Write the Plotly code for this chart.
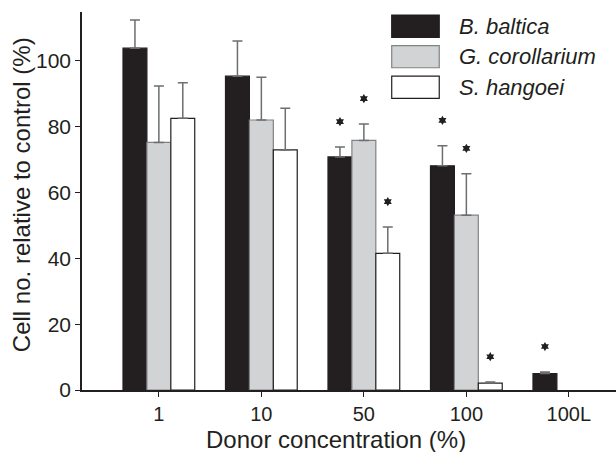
import plotly.graph_objects as go
import numpy as np

categories = ["1", "10", "50", "100", "100L"]
species = ["B. baltica", "G. corollarium", "S. hangoei"]

baltica = [103.8, 95.3, 70.8, 68.1, 5.0]
baltica_err = [8.6, 10.7, 3.0, 6.1, 0.5]
corollarium = [75.2, 82.0, 75.8, 53.1, None]
corollarium_err = [17.1, 13.0, 5.0, 12.6, None]
hangoei = [82.5, 72.9, 41.5, 2.1, None]
hangoei_err = [10.8, 12.7, 8.0, 0.3, None]

baltica_sig = [0, 0, 1, 1, 1]
corollarium_sig = [0, 0, 1, 1, 0]
hangoei_sig = [0, 0, 1, 1, 0]

fills = ["#231f20", "#d1d3d4", "#ffffff"]
outlines = ["#231f20", "#808285", "#231f20"]
err_color = "#6d6e71"
FONT = "Liberation Sans, Arial, sans-serif"
TXT = "#231f20"

values = [baltica, corollarium, hangoei]
errors = [baltica_err, corollarium_err, hangoei_err]
sigs = [baltica_sig, corollarium_sig, hangoei_sig]

x_idx = np.arange(len(categories))
group_width = 0.7
bar_w = group_width / 3

fig = go.Figure()
for k in range(3):
    fig.add_trace(go.Bar(
        x=x_idx, y=values[k], name=species[k],
        marker=dict(color=fills[k], line=dict(color=outlines[k], width=1.2)),
        error_y=dict(type="data", symmetric=False, array=errors[k],
                     arrayminus=[0] * len(categories),
                     color=err_color, thickness=1.5, width=5),
        showlegend=False,
    ))

# significance asterisks
star_offset = 7.7
for k in range(3):
    xs, ys = [], []
    for i in range(len(categories)):
        if sigs[k][i] and values[k][i] is not None:
            xs.append(x_idx[i] + (k - 1) * bar_w)
            ys.append(values[k][i] + (errors[k][i] or 0) + star_offset)
    fig.add_trace(go.Scatter(
        x=xs, y=ys, mode="markers",
        marker=dict(symbol="hexagram", size=7, color=TXT, line=dict(width=0)),
        showlegend=False, hoverinfo="skip", cliponaxis=False,
    ))

# manual legend
box_x0, box_x1, text_x = 0.58, 0.669, 0.7017
rows = [(0.933, 0.992), (0.8525, 0.9108), (0.7715, 0.8305)]
for k in range(3):
    y0, y1 = rows[k]
    fig.add_shape(type="rect", xref="paper", yref="paper",
                  x0=box_x0, x1=box_x1, y0=y0, y1=y1,
                  fillcolor=fills[k], line=dict(color=outlines[k], width=1.2))
    fig.add_annotation(xref="paper", yref="paper", x=text_x, y=(y0 + y1) / 2,
                       text="<i>%s</i>" % species[k], showarrow=False,
                       xanchor="left", yanchor="middle",
                       font=dict(family=FONT, size=22, color=TXT))

# axis titles
fig.add_annotation(xref="paper", yref="paper", x=0.4757, y=-0.130,
                   text="Donor concentration (%)", showarrow=False,
                   xanchor="center", yanchor="middle", borderpad=0,
                   font=dict(family=FONT, size=24, color=TXT))
fig.add_annotation(xref="paper", yref="paper", x=-0.1142, y=0.5155,
                   text="Cell no. relative to control (%)", showarrow=False,
                   textangle=-90, xanchor="center", yanchor="middle",
                   font=dict(family=FONT, size=24, color=TXT))

fig.update_layout(
    width=616, height=452,
    margin=dict(l=82, r=0, t=12, b=62, autoexpand=False),
    barmode="group", bargap=0.3, bargroupgap=0,
    plot_bgcolor="white", paper_bgcolor="white",
    font=dict(family=FONT, color=TXT),
    xaxis=dict(
        range=[-0.75, 4.46], tickmode="array", tickvals=x_idx, ticktext=categories,
        showline=True, linecolor=TXT, linewidth=1.5,
        ticks="outside", ticklen=5, tickwidth=1.2, tickcolor=TXT,
        showgrid=False, zeroline=False, automargin=False,
        tickfont=dict(size=20, family=FONT, color=TXT),
    ),
    yaxis=dict(
        range=[0, 114.8], tickmode="array", tickvals=[0, 20, 40, 60, 80, 100],
        showline=True, linecolor=TXT, linewidth=1.5,
        ticks="outside", ticklen=5, tickwidth=1.2, tickcolor=TXT,
        showgrid=False, zeroline=False, automargin=False,
        tickfont=dict(size=21, family=FONT, color=TXT),
    ),
)

fig.write_html("out.html", config={"displayModeBar": False},
               post_script="document.body.style.margin='0';document.body.style.overflow='hidden';")
